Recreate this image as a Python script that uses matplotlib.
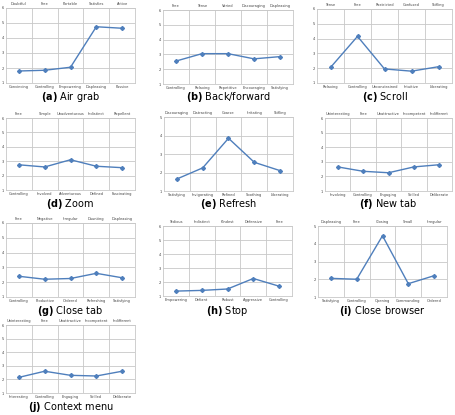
import matplotlib
matplotlib.use("Agg")
from matplotlib import pyplot as plt

# panel data: title, top words, bottom words, mean scores, y max
titles = ["Air grab", "Back/forward", "Scroll", "Zoom", "Refresh",
          "New tab", "Close tab", "Stop", "Close browser", "Context menu"]
letters = ["a", "b", "c", "d", "e", "f", "g", "h", "i", "j"]

top_a = ["Doubtful", "Free", "Portable", "Satisfies", "Active"]
bot_a = ["Convincing", "Controlling", "Empowering", "Displeasing", "Passive"]
val_a = [1.8, 1.85, 2.05, 4.75, 4.65]

top_b = ["Free", "Tense", "Varied", "Discouraging", "Displeasing"]
bot_b = ["Controlling", "Relaxing", "Repetitive", "Encouraging", "Satisfying"]
val_b = [2.55, 3.05, 3.05, 2.7, 2.85]

top_c = ["Tense", "Free", "Restricted", "Confused", "Stifling"]
bot_c = ["Relaxing", "Controlling", "Unconstrained", "Intuitive", "Liberating"]
val_c = [2.05, 4.15, 1.95, 1.8, 2.1]

top_d = ["Free", "Simple", "Unadventurous", "Indistinct", "Repellent"]
bot_d = ["Controlling", "Involved", "Adventurous", "Defined", "Fascinating"]
val_d = [2.75, 2.6, 3.1, 2.65, 2.55]

top_e = ["Discouraging", "Distracting", "Coarse", "Irritating", "Stifling"]
bot_e = ["Satisfying", "Invigorating", "Refined", "Soothing", "Liberating"]
val_e = [1.65, 2.25, 3.85, 2.55, 2.1]

top_f = ["Uninteresting", "Free", "Unattractive", "Incompetent", "Indifferent"]
bot_f = ["Involving", "Controlling", "Engaging", "Skilled", "Deliberate"]
val_f = [2.65, 2.35, 2.25, 2.65, 2.8]

top_g = ["Free", "Negative", "Irregular", "Daunting", "Displeasing"]
bot_g = ["Controlling", "Productive", "Ordered", "Refreshing", "Satisfying"]
val_g = [2.4, 2.2, 2.25, 2.6, 2.3]

top_h = ["Tedious", "Indistinct", "Kindest", "Defensive", "Free"]
bot_h = ["Empowering", "Defiant", "Robust", "Aggressive", "Controlling"]
val_h = [1.35, 1.4, 1.5, 2.25, 1.7]

top_i = ["Displeasing", "Free", "Closing", "Small", "Irregular"]
bot_i = ["Satisfying", "Controlling", "Opening", "Commanding", "Ordered"]
val_i = [2.05, 2.0, 4.45, 1.75, 2.2]

top_j = ["Uninteresting", "Free", "Unattractive", "Incompetent", "Indifferent"]
bot_j = ["Interesting", "Controlling", "Engaging", "Skilled", "Deliberate"]
val_j = [2.15, 2.6, 2.3, 2.25, 2.6]

tops = [top_a, top_b, top_c, top_d, top_e, top_f, top_g, top_h, top_i, top_j]
bots = [bot_a, bot_b, bot_c, bot_d, bot_e, bot_f, bot_g, bot_h, bot_i, bot_j]
vals = [val_a, val_b, val_c, val_d, val_e, val_f, val_g, val_h, val_i, val_j]
ymax = [6, 6, 6, 6, 5, 6, 6, 6, 5, 6]

# panel boxes in pixels: left, top, right, bottom
boxes = [(6, 8, 135, 83), (163, 10, 293, 84), (317, 9, 452, 83),
         (6, 118, 135, 190), (164, 117, 293, 191), (325, 118, 452, 191),
         (6, 223, 135, 297), (163, 226, 292, 296), (318, 226, 447, 297),
         (6, 325, 135, 393)]
# caption centre height in pixels for each panel
cap_y = [97, 97, 97, 204, 204, 204, 311, 311, 311, 407]

W, H = 455, 415
fig = plt.figure(figsize=(W / 100, H / 100), dpi=100)
line_col = "#4f7fbc"
grid_col = "#c8c8c8"

for k in range(10):
    l, t, r, b = boxes[k]
    ax = fig.add_axes([l / W, 1 - b / H, (r - l) / W, (b - t) / H])
    xs = [i + 0.5 for i in range(5)]
    ax.plot(xs, vals[k], color=line_col, lw=1.0, marker="D", ms=2.0)
    ax.set_xlim(0, 5)
    ax.set_ylim(1, ymax[k])
    ax.set_yticks(range(1, ymax[k] + 1))
    ax.set_xticks(xs)
    ax.set_xticklabels(bots[k])
    ax.set_xticks([1, 2, 3, 4], minor=True)
    ax.grid(True, which="minor", axis="x", color=grid_col, lw=0.6)
    ax.grid(True, which="major", axis="y", color=grid_col, lw=0.6)
    ax.tick_params(axis="both", which="both", length=0, labelsize=2.6, pad=1.5, colors="#444444")
    for s in ax.spines.values():
        s.set_color(grid_col)
        s.set_linewidth(0.6)
    sec = ax.secondary_xaxis("top")
    sec.set_xticks(xs)
    sec.set_xticklabels(tops[k])
    sec.tick_params(length=0, labelsize=2.6, pad=1.5, colors="#444444")
    for s in sec.spines.values():
        s.set_visible(False)
    fig.text((l + r) / 2 / W, 1 - cap_y[k] / H, r"$\bf{(" + letters[k] + r")}$ " + titles[k],
             ha="center", va="center", fontsize=7.0)

fig.savefig("out.png", dpi=100)
